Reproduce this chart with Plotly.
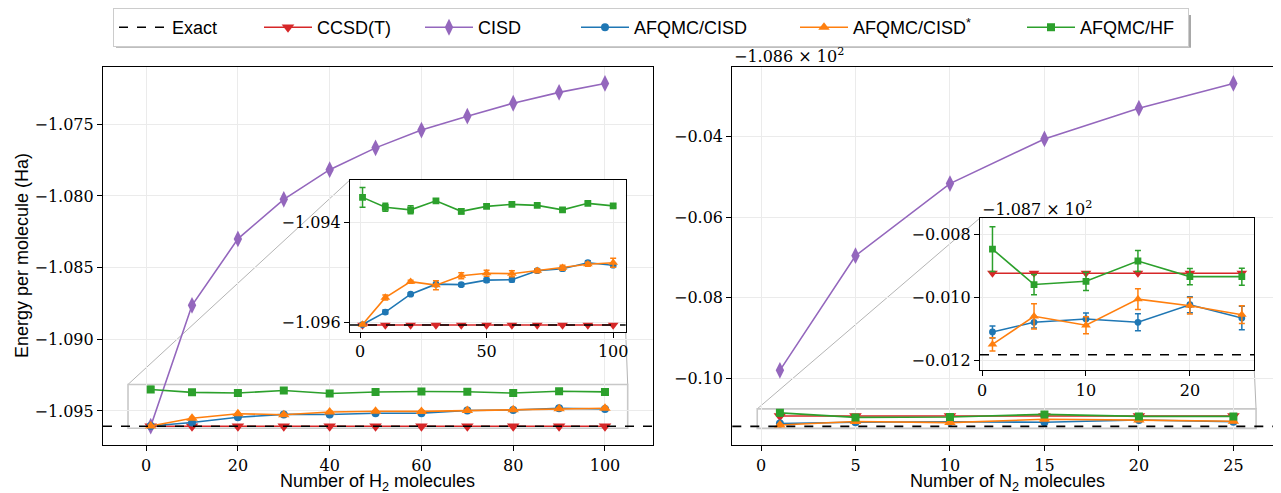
import plotly.graph_objects as go

# ---------------- data ----------------
h2_n = [1, 10, 20, 30, 40, 50, 60, 70, 80, 90, 100]
h2_exact = -1.09606
h2_ccsdt = [-1.09606, -1.09606, -1.09606, -1.09606, -1.09606, -1.09606,
            -1.09606, -1.09606, -1.09606, -1.09606, -1.09606]
h2_cisd = [-1.09606, -1.08763, -1.08300, -1.08024, -1.07817, -1.07665,
           -1.07541, -1.07444, -1.07354, -1.07278, -1.07216]
h2_afqmc_cisd = [-1.09605, -1.09580, -1.09544, -1.09524, -1.09525, -1.09516,
                 -1.09515, -1.09497, -1.09493, -1.09481, -1.09486]
h2_afqmc_cisd_err = [0.00002, 0.00004, 0.00003, 0.00003, 0.00003, 0.00004,
                     0.00004, 0.00003, 0.00004, 0.00004, 0.00004]
h2_afqmc_cisds = [-1.09605, -1.09551, -1.09519, -1.09526, -1.09507, -1.09502,
                  -1.09503, -1.09497, -1.09491, -1.09484, -1.09481]
h2_afqmc_cisds_err = [0.00002, 0.00005, 0.00003, 0.00009, 0.00006, 0.00006,
                      0.00006, 0.00004, 0.00005, 0.00004, 0.00009]
h2_afqmc_hf = [-1.09350, -1.09370, -1.09375, -1.09357, -1.09378, -1.09368,
               -1.09364, -1.09366, -1.09375, -1.09362, -1.09367]
h2_afqmc_hf_err = [0.00020, 0.00008, 0.00008, 0.00004, 0.00005, 0.00004,
                   0.00003, 0.00003, 0.00003, 0.00003, 0.00003]

n2_n = [1, 5, 10, 15, 20, 25]
n2_exact = -108.711817
n2_ccsdt = [-108.70923, -108.70923, -108.70923, -108.70923, -108.70923, -108.70923]
n2_cisd = [-108.69794, -108.66957, -108.65171, -108.64066, -108.63306, -108.62692]
n2_afqmc_cisd = [-108.711092, -108.710787, -108.710682, -108.710787, -108.710231, -108.710651]
n2_afqmc_cisd_err = [0.00019, 0.00018, 0.00019, 0.00027, 0.00025, 0.00037]
n2_afqmc_cisds = [-108.711490, -108.710598, -108.710882, -108.710052, -108.710262, -108.710546]
n2_afqmc_cisds_err = [0.00021, 0.00040, 0.00027, 0.00033, 0.00026, 0.00028]
n2_afqmc_hf = [-108.708466, -108.709590, -108.709487, -108.708844, -108.709339, -108.709340]
n2_afqmc_hf_err = [0.00071, 0.00032, 0.00029, 0.00033, 0.00026, 0.00027]

# tick labels
h2_xticks = [0, 20, 40, 60, 80, 100]
h2_yticks = [-1.095, -1.090, -1.085, -1.080, -1.075]
h2_inset_xticks = [0, 50, 100]
h2_inset_yticks = [-1.096, -1.094]
n2_xticks = [0, 5, 10, 15, 20, 25]
n2_main_offset = -108.6
n2_main_yticks = [-0.10, -0.08, -0.06, -0.04]
n2_inset_offset = -108.7
n2_inset_yticks = [-0.012, -0.010, -0.008]
n2_inset_xticks = [0, 10, 20]

series_names = ["Exact", "CCSD(T)", "CISD", "AFQMC/CISD", "AFQMC/CISD<sup>*</sup>", "AFQMC/HF"]

# ---------------- style / layout ----------------
OFF = 8                      # page body margin
W, H = 1281 - OFF, 493 - OFF
C_RED, C_PUR, C_BLU, C_ORA, C_GRN = "#d62728", "#9467bd", "#1f77b4", "#ff7f0e", "#2ca02c"
SERIF = "DejaVu Serif"
SANS = "Liberation Sans"
GRID = "#ebebeb"
LEG_ITEMW = 48
LEG_WIDTHS = [82, 98, 93, 156, 164, 103]


def px_x(p):
    return (p - OFF) / W


def px_y(p):
    return 1 - (p - OFF) / H


dom = {
    "L": ([px_x(103), px_x(652.7)], [px_y(445), px_y(63.3)]),
    "R": ([px_x(732.3), 1.0], [px_y(445), px_y(63.3)]),
    "LI": ([px_x(350), px_x(625.7)], [px_y(330.7), px_y(177.3)]),
    "RI": ([px_x(980), px_x(1254.3)], [px_y(369.3), px_y(215.7)]),
}
rng = {
    "L": ([-9.4, 110.4], [-1.0974, -1.0710]),
    "LI": ([-3.95, 104.95], [-1.0962, -1.09315]),
    "R": ([-1.52, 27.52], [-108.71652, -108.62282]),
    "RI": ([-0.2, 26.2], [-108.71231, -108.70748]),
}

fig = go.Figure()


def add_series(xs, axes, big, legend):
    xa, ya = axes
    k = 1.0 if big else 0.85
    fig.add_trace(go.Scatter(x=xs[0], y=xs[1], mode="lines+markers", name=series_names[1],
                             line=dict(color=C_RED, width=1.6),
                             marker=dict(symbol="triangle-down", size=11 * k, color=C_RED),
                             xaxis=xa, yaxis=ya, showlegend=legend, legendrank=2,
                             legendwidth=LEG_WIDTHS[1]))
    if xs[2] is not None:
        fig.add_trace(go.Scatter(x=xs[0], y=xs[2], mode="lines+markers", name=series_names[2],
                                 line=dict(color=C_PUR, width=1.6),
                                 marker=dict(symbol="diamond-tall", size=12 * k, color=C_PUR),
                                 xaxis=xa, yaxis=ya, showlegend=legend, legendrank=3,
                                 legendwidth=LEG_WIDTHS[2]))
    for vals, errs, col, sym, sz, idx in [
        (xs[3], xs[4], C_BLU, "circle", 8, 3),
        (xs[5], xs[6], C_ORA, "triangle-up", 10, 4),
        (xs[7], xs[8], C_GRN, "square", 8, 5),
    ]:
        fig.add_trace(go.Scatter(x=xs[0], y=vals, mode="lines+markers", name=series_names[idx],
                                 line=dict(color=col, width=1.6),
                                 marker=dict(symbol=sym, size=sz * k, color=col),
                                 error_y=dict(type="data", array=errs, thickness=1.5, width=3, color=col),
                                 xaxis=xa, yaxis=ya, showlegend=legend, legendrank=idx + 1,
                                 legendwidth=LEG_WIDTHS[idx]))


# legend-only Exact entry
fig.add_trace(go.Scatter(x=[None], y=[None], mode="lines", name=series_names[0],
                         line=dict(color="black", width=1.6, dash="dash"), legendrank=1,
                         legendwidth=LEG_WIDTHS[0]))

h2_pack = [h2_n, h2_ccsdt, h2_cisd, h2_afqmc_cisd, h2_afqmc_cisd_err,
           h2_afqmc_cisds, h2_afqmc_cisds_err, h2_afqmc_hf, h2_afqmc_hf_err]
n2_pack = [n2_n, n2_ccsdt, n2_cisd, n2_afqmc_cisd, n2_afqmc_cisd_err,
           n2_afqmc_cisds, n2_afqmc_cisds_err, n2_afqmc_hf, n2_afqmc_hf_err]
h2_pack_inset = h2_pack[:2] + [None] + h2_pack[3:]
n2_pack_inset = n2_pack[:2] + [None] + n2_pack[3:]

add_series(h2_pack, ("x", "y"), True, True)
add_series(n2_pack, ("x2", "y2"), True, False)
add_series(h2_pack_inset, ("x3", "y3"), False, False)
add_series(n2_pack_inset, ("x4", "y4"), False, False)

tickfont = dict(family=SERIF, size=16, color="black")


def axis(domain, r, tickvals, ticktext=None, anchor=None):
    d = dict(domain=domain, range=r, tickvals=tickvals, showgrid=True, gridcolor=GRID, gridwidth=1,
             showline=True, linecolor="black", linewidth=1.2, mirror=True, ticks="outside",
             ticklen=5, tickcolor="black", tickwidth=1, tickfont=tickfont, zeroline=False,
             automargin=False, anchor=anchor)
    if ticktext is not None:
        d["ticktext"] = ticktext
    return d


def mfmt(v, nd):
    s = f"{abs(v):.{nd}f}"
    return ("\u2212" + s) if v < 0 else s


fig.update_layout(
    xaxis=axis(dom["L"][0], rng["L"][0], h2_xticks, [str(v) for v in h2_xticks], anchor="y"),
    yaxis=axis(dom["L"][1], rng["L"][1], h2_yticks, [mfmt(v, 3) for v in h2_yticks], anchor="x"),
    xaxis2=axis(dom["R"][0], rng["R"][0], n2_xticks, [str(v) for v in n2_xticks], anchor="y2"),
    yaxis2=axis(dom["R"][1], rng["R"][1], [n2_main_offset + t for t in n2_main_yticks],
                [mfmt(t, 2) for t in n2_main_yticks], anchor="x2"),
    xaxis3=axis(dom["LI"][0], rng["LI"][0], h2_inset_xticks, [str(v) for v in h2_inset_xticks], anchor="y3"),
    yaxis3=axis(dom["LI"][1], rng["LI"][1], h2_inset_yticks, [mfmt(v, 3) for v in h2_inset_yticks], anchor="x3"),
    xaxis4=axis(dom["RI"][0], rng["RI"][0], n2_inset_xticks, [str(v) for v in n2_inset_xticks], anchor="y4"),
    yaxis4=axis(dom["RI"][1], rng["RI"][1], [n2_inset_offset + t for t in n2_inset_yticks],
                [mfmt(t, 3) for t in n2_inset_yticks], anchor="x4"),
)

shapes = []
for xr, yr, val in [("x", "y", h2_exact), ("x3", "y3", h2_exact), ("x2", "y2", n2_exact), ("x4", "y4", n2_exact)]:
    shapes.append(dict(type="line", xref=xr + " domain", yref=yr, x0=0, x1=1, y0=val, y1=val,
                       line=dict(color="black", width=1.6, dash="dash"), layer="above"))


def to_paper(key, xv, yv):
    (dx, dy), (rx, ry) = dom[key], rng[key]
    px = dx[0] + (xv - rx[0]) / (rx[1] - rx[0]) * (dx[1] - dx[0])
    py = dy[0] + (yv - ry[0]) / (ry[1] - ry[0]) * (dy[1] - dy[0])
    return px, py


for main, ins, xr, yr in [("L", "LI", "x", "y"), ("R", "RI", "x2", "y2")]:
    (ix, iy) = rng[ins]
    shapes.append(dict(type="rect", xref=xr, yref=yr, x0=ix[0], x1=ix[1], y0=iy[0], y1=iy[1],
                       line=dict(color="#c8c8c8", width=1.6), layer="below"))
    a = to_paper(main, ix[0], iy[1])
    b = to_paper(main, ix[1], iy[1])
    ddx, ddy = dom[ins]
    shapes.append(dict(type="line", xref="paper", yref="paper", x0=a[0], y0=a[1], x1=ddx[0], y1=ddy[1],
                       line=dict(color="#b4b4b4", width=1), layer="below"))
    shapes.append(dict(type="line", xref="paper", yref="paper", x0=b[0], y0=b[1], x1=ddx[1], y1=ddy[0],
                       line=dict(color="#b4b4b4", width=1), layer="below"))

# legend shadow (drawn beneath the legend box, offset down-right)
shapes.append(dict(type="rect", xref="paper", yref="paper", x0=px_x(116), x1=px_x(1191),
                   y0=px_y(44), y1=px_y(11), fillcolor="#a8a8a8", line=dict(width=0), layer="above"))

annotations = [
    dict(text="Energy per molecule (Ha)", xref="paper", yref="paper", x=px_x(22),
         y=(dom["L"][1][0] + dom["L"][1][1]) / 2, xanchor="center", yanchor="middle",
         textangle=-90, showarrow=False, font=dict(family=SANS, size=18, color="black")),
    dict(text="Number of H<sub>2</sub> molecules", xref="paper", yref="paper",
         x=(dom["L"][0][0] + dom["L"][0][1]) / 2, y=px_y(482), xanchor="center", yanchor="middle",
         showarrow=False, font=dict(family=SANS, size=18, color="black")),
    dict(text="Number of N<sub>2</sub> molecules", xref="paper", yref="paper",
         x=px_x(1007), y=px_y(482), xanchor="center", yanchor="middle", showarrow=False,
         font=dict(family=SANS, size=18, color="black")),
    dict(text="\u22121.086 \u00d7 10<sup>2</sup>", xref="paper", yref="paper", x=dom["R"][0][0],
         y=px_y(52), xanchor="left", yanchor="middle", showarrow=False,
         font=dict(family=SERIF, size=16, color="black")),
    dict(text="\u22121.087 \u00d7 10<sup>2</sup>", xref="paper", yref="paper", x=dom["RI"][0][0],
         y=px_y(206), xanchor="left", yanchor="middle", showarrow=False,
         font=dict(family=SERIF, size=16, color="black")),
]

fig.update_layout(
    width=W, height=H, margin=dict(l=0, r=0, t=0, b=0),
    paper_bgcolor="white", plot_bgcolor="white",
    shapes=shapes, annotations=annotations,
    showlegend=True,
    legend=dict(orientation="h", x=px_x(113), xanchor="left", y=px_y(4), yanchor="top",
                bgcolor="white", bordercolor="#cccccc", borderwidth=1,
                font=dict(family=SANS, size=18, color="black"), traceorder="normal",
                itemwidth=LEG_ITEMW),
)

fig.write_html("out.html")
